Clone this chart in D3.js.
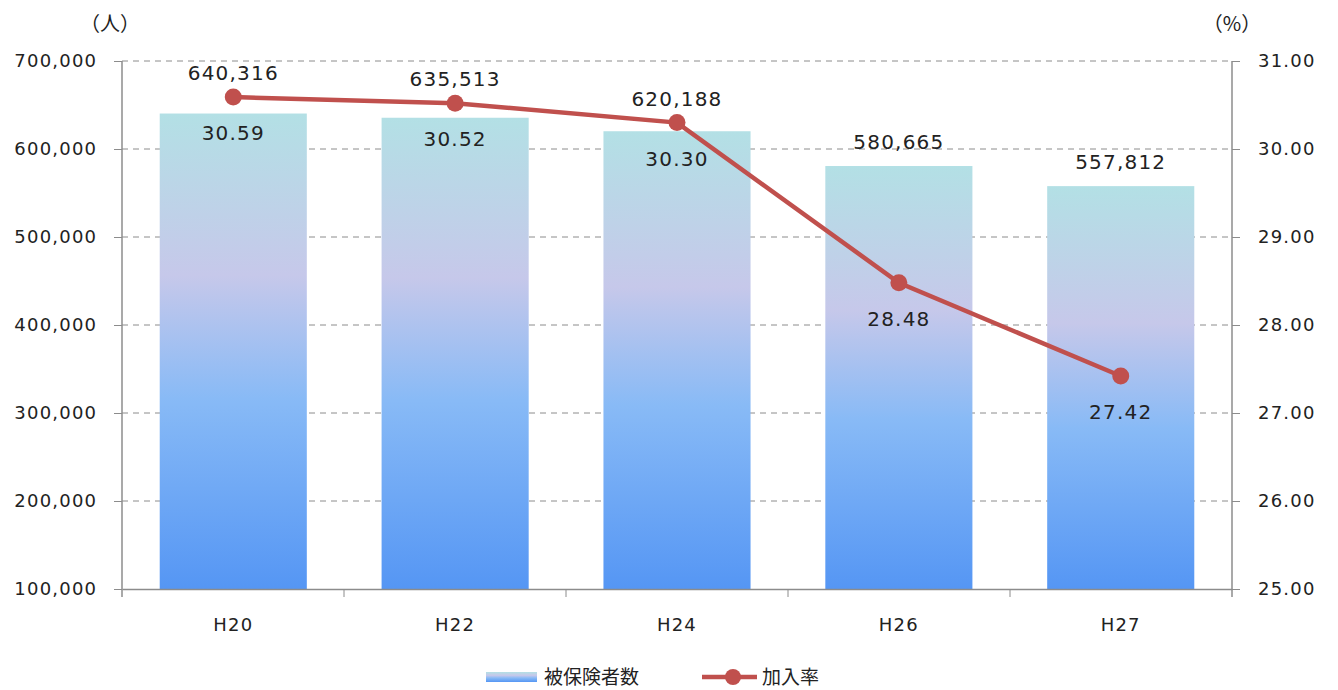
<!DOCTYPE html>
<html>
<head>
<meta charset="utf-8">
<script src="https://cdn.jsdelivr.net/npm/d3@7"></script>
<style>
  body { margin: 0; background: #fff; }
  svg text { font-family: "DejaVu Sans", "Noto Sans CJK JP", sans-serif; fill: #222; }
  svg text.jp { font-family: "Noto Sans CJK JP", sans-serif; }
</style>
</head>
<body>
<div id="chart"></div>
<script>
const years = ['H20', 'H22', 'H24', 'H26', 'H27']
const insured = [640316, 635513, 620188, 580665, 557812]
const rate = [30.59, 30.52, 30.30, 28.48, 27.42]
const leftTicks = [100000, 200000, 300000, 400000, 500000, 600000, 700000]
const rightTicks = [25, 26, 27, 28, 29, 30, 31]

const width = 1338
const height = 690
const m = { left: 122, right: 106, top: 61, bottom: 101 }
const innerW = width - m.left - m.right
const innerH = height - m.top - m.bottom

const svg = d3.select('#chart').append('svg')
    .attr('width', width)
    .attr('height', height)

const defs = svg.append('defs')
const grad = defs.append('linearGradient')
    .attr('id', 'barGrad')
    .attr('x1', 0).attr('y1', 0).attr('x2', 0).attr('y2', 1)
grad.selectAll('stop')
    .data([[0, '#b3e0e5'], [0.34, '#c6c8ea'], [0.6, '#88baf6'], [1, '#5596f4']])
    .enter()
    .append('stop')
    .attr('offset', d => d[0])
    .attr('stop-color', d => d[1])

const g = svg.append('g')
    .attr('transform', `translate(${ m.left }, ${ m.top })`)

const x = d3.scaleBand().domain(years).range([0, innerW]).paddingInner(0.337).paddingOuter(0.17)
const y0 = d3.scaleLinear().domain([100000, 700000]).range([innerH, 0])
const y1 = d3.scaleLinear().domain([25, 31]).range([innerH, 0])

// grid
g.append('g').selectAll('line')
    .data(leftTicks.slice(1))
    .enter()
    .append('line')
    .attr('x1', 0).attr('x2', innerW)
    .attr('y1', d => y0(d)).attr('y2', d => y0(d))
    .attr('stroke', '#8c8c8c')
    .attr('stroke-dasharray', '6,5')

// bars
g.append('g').selectAll('rect')
    .data(insured)
    .enter()
    .append('rect')
    .attr('x', (d, i) => x(years[i]))
    .attr('y', d => y0(d))
    .attr('width', x.bandwidth())
    .attr('height', d => innerH - y0(d))
    .attr('fill', 'url(#barGrad)')

// axes
const fmt = d3.format(',')
const axL = g.append('g')
    .call(d3.axisLeft(y0).tickValues(leftTicks).tickFormat(fmt).tickSize(8).tickPadding(18))
const axR = g.append('g')
    .attr('transform', `translate(${ innerW }, 0)`)
    .call(d3.axisRight(y1).tickValues(rightTicks).tickFormat(d3.format('.2f')).tickSize(8).tickPadding(18))
const axB = g.append('g')
    .attr('transform', `translate(0, ${ innerH })`)
    .call(d3.axisBottom(x).tickSize(0).tickPadding(29))

const step = innerW / years.length
axB.selectAll('.bt')
    .data(d3.range(1, years.length))
    .enter()
    .append('line')
    .attr('x1', d => d * step).attr('x2', d => d * step)
    .attr('y1', 0).attr('y2', 8)
    .attr('stroke', '#8c8c8c')

;[axL, axR, axB].forEach(a => {
    a.selectAll('.domain').attr('stroke', '#8c8c8c').attr('stroke-width', 1.5)
    a.selectAll('.tick line').attr('stroke', '#8c8c8c')
    a.selectAll('text').style('font-size', '18px').style('letter-spacing', '1.2px').attr('fill', '#222')
})
axL.selectAll('text').attr('dx', '1.2px')
axL.select('.domain').attr('d', `M0,${ innerH + 8 }V0`)
axR.select('.domain').attr('d', `M0,${ innerH + 8 }V0`)

// line
const cx = (d, i) => x(years[i]) + x.bandwidth() / 2
const line = d3.line()
    .x(cx)
    .y(d => y1(d))
g.append('path')
    .datum(rate)
    .attr('d', line)
    .attr('fill', 'none')
    .attr('stroke', '#c0504d')
    .attr('stroke-width', 4.5)
g.append('g').selectAll('circle')
    .data(rate)
    .enter()
    .append('circle')
    .attr('cx', cx)
    .attr('cy', d => y1(d))
    .attr('r', 8.5)
    .attr('fill', '#c0504d')

// labels
g.append('g').selectAll('text')
    .data(insured)
    .enter()
    .append('text')
    .attr('x', cx)
    .attr('y', (d, i) => Math.min(y0(d), y1(rate[i])) - 17)
    .attr('text-anchor', 'middle')
    .style('font-size', '20px')
    .style('letter-spacing', '1.2px')
    .text(d => fmt(d))

g.append('g').selectAll('text')
    .data(rate)
    .enter()
    .append('text')
    .attr('x', cx)
    .attr('y', d => y1(d) + 43)
    .attr('text-anchor', 'middle')
    .style('font-size', '20px')
    .style('letter-spacing', '1.2px')
    .text(d => d.toFixed(2))

// units
svg.append('text').attr('class', 'jp').attr('x', 110).attr('y', 31).attr('text-anchor', 'middle')
    .style('font-size', '20px').text('（人）')
svg.append('text').attr('class', 'jp').attr('x', 1232).attr('y', 31).attr('text-anchor', 'middle')
    .style('font-size', '20px').text('（%）')

// legend
const lg = svg.append('g').attr('transform', 'translate(486, 677)')
lg.append('rect').attr('x', 0).attr('y', -5).attr('width', 51).attr('height', 10).attr('fill', 'url(#barGrad)')
lg.append('text').attr('class', 'jp').attr('x', 58).attr('y', 7).style('font-size', '19px').text('被保険者数')
lg.append('line').attr('x1', 216).attr('x2', 271).attr('y1', 0).attr('y2', 0)
    .attr('stroke', '#c0504d').attr('stroke-width', 4.5)
lg.append('circle').attr('cx', 247).attr('cy', 0).attr('r', 8).attr('fill', '#c0504d')
lg.append('text').attr('class', 'jp').attr('x', 276).attr('y', 7).style('font-size', '19px').text('加入率')
</script>
</body>
</html>
